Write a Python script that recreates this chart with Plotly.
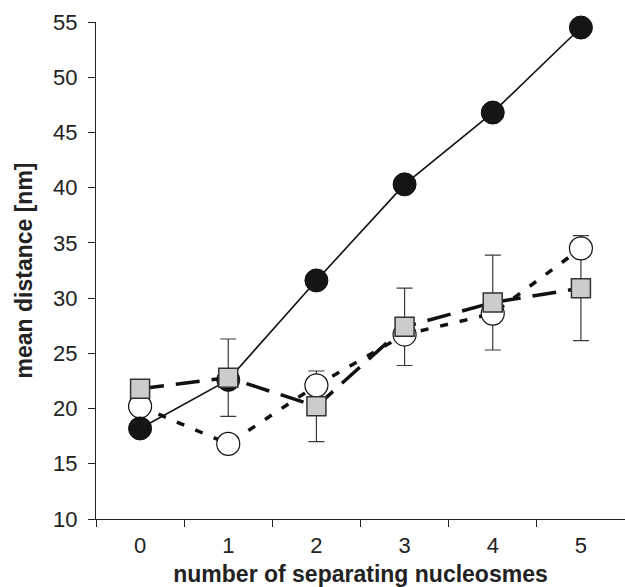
import plotly.graph_objects as go

# number of separating nucleosomes
categories = ["0", "1", "2", "3", "4", "5"]

# mean distances [nm]
filled_circles = [18.2, 22.6, 31.6, 40.3, 46.8, 54.5]
open_circles = [20.2, 16.8, 22.1, 26.7, 28.6, 34.5]
squares = [21.8, 22.8, 20.2, 27.4, 29.6, 30.9]
squares_err = [None, 3.5, 3.2, 3.5, 4.3, 4.75]

y_ticks = [10, 15, 20, 25, 30, 35, 40, 45, 50, 55]

font_family = "Liberation Sans, Arial, sans-serif"
ink = "#222222"

fig = go.Figure()

# error bars of the square series sit underneath every marker
fig.add_trace(go.Scatter(
    x=categories, y=squares, mode="markers",
    marker=dict(size=1, color="rgba(0,0,0,0)"),
    error_y=dict(type="data", array=squares_err, visible=True,
                 color="#3a3a3a", thickness=1.2, width=8),
    showlegend=False, hoverinfo="skip", cliponaxis=False,
))

fig.add_trace(go.Scatter(
    x=categories, y=open_circles, mode="lines+markers",
    line=dict(color="#111111", width=3.5, dash="8px,12px"),
    marker=dict(symbol="circle", size=23, color="white",
                line=dict(color="#111111", width=1.2)),
    showlegend=False, cliponaxis=False,
))

fig.add_trace(go.Scatter(
    x=categories, y=filled_circles, mode="lines+markers",
    line=dict(color="#111111", width=1.6),
    marker=dict(symbol="circle", size=23, color="#151515",
                line=dict(color="#111111", width=1)),
    showlegend=False, cliponaxis=False,
))

fig.add_trace(go.Scatter(
    x=categories, y=squares, mode="lines+markers",
    line=dict(color="#111111", width=3.5, dash="24px,12px"),
    marker=dict(symbol="square", size=19, color="#cccccc",
                line=dict(color="#333333", width=1.5)),
    showlegend=False, cliponaxis=False,
))

fig.update_layout(
    width=625, height=587,
    margin=dict(l=96, r=0, t=22, b=68),
    paper_bgcolor="white", plot_bgcolor="white",
    font=dict(family=font_family, color=ink),
    xaxis=dict(
        type="category", range=[-0.5, 5.5],
        tickson="boundaries", ticks="outside", ticklen=7,
        tickcolor=ink, tickwidth=1,
        showline=True, linecolor=ink, linewidth=1,
        showgrid=False, zeroline=False, automargin=False,
        tickfont=dict(size=22, color=ink), ticklabelstandoff=7,
        title=dict(text="<b>number of separating nucleosmes</b>",
                   font=dict(size=23, color=ink), standoff=9),
    ),
    yaxis=dict(
        range=[10, 55], tickvals=y_ticks,
        ticks="outside", ticklen=7, tickcolor=ink, tickwidth=1,
        showline=True, linecolor=ink, linewidth=1,
        showgrid=False, zeroline=False, automargin=False,
        tickfont=dict(size=22, color=ink), ticklabelstandoff=6,
        title=dict(text="<b>mean distance [nm]</b>",
                   font=dict(size=23, color=ink), standoff=14),
    ),
)

fig.write_html("out.html")
